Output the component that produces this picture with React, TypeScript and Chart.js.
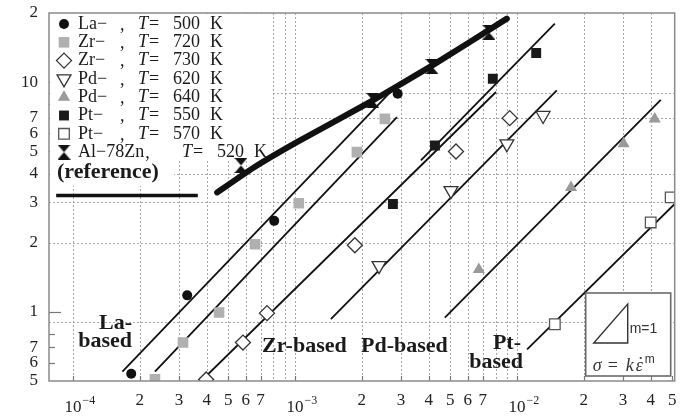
import React, { useEffect, useRef } from 'react';
import { Chart, registerables } from 'chart.js';

Chart.register(...registerables);

const SERIF = '"Liberation Serif", "Times New Roman", serif';
const SANS = '"Liberation Sans", Arial, sans-serif';

// ---------------- data: strain rate (s^-1) vs flow stress ----------------
const laX = [1.83e-4, 3.27e-4, 8.06e-4, 2.9e-3];
const laY = [0.538, 1.18, 2.49, 8.91];
const zr720X = [2.34e-4, 3.13e-4, 4.55e-4, 6.61e-4, 1.04e-3, 1.9e-3, 2.54e-3];
const zr720Y = [0.508, 0.735, 0.993, 1.97, 2.97, 4.96, 6.92];
const zr730X = [3.98e-4, 5.83e-4, 7.48e-4, 1.86e-3, 5.31e-3, 9.27e-3];
const zr730Y = [0.508, 0.735, 0.987, 1.95, 4.99, 6.97];
const pd620X = [2.39e-3, 5.04e-3, 9.0e-3, 1.31e-2];
const pd620Y = [1.59, 3.37, 5.39, 7.16];
const pd640X = [6.73e-3, 1.75e-2, 3.02e-2, 4.17e-2];
const pd640Y = [1.53, 3.48, 5.39, 6.92];
const pt550X = [2.76e-3, 4.27e-3, 7.78e-3, 1.22e-2];
const pt550Y = [2.95, 5.3, 10.35, 13.4];
const pt570X = [1.48e-2, 4.0e-2, 4.92e-2];
const pt570Y = [0.883, 2.45, 3.15];
const alznX = [5.71e-4, 2.24e-3, 4.14e-3, 7.47e-3];
const alznY = [4.34, 8.32, 11.7, 16.5];

// fitted lines (m = 1)
const laLineX = [1.67e-4, 2.97e-3];
const laLineY = [0.549, 10.0];
const zr720LineX = [2.34e-4, 2.88e-3];
const zr720LineY = [0.549, 7.05];
const zr730LineX = [3.78e-4, 8.04e-3];
const zr730LineY = [0.5, 9.06];
const pt550LineX = [3.69e-3, 1.48e-2];
const pt550LineY = [4.56, 17.98];
const pd620LineX = [1.45e-3, 1.51e-2];
const pd620LineY = [0.929, 9.2];
const pd640LineX = [4.73e-3, 4.44e-2];
const pd640LineY = [0.944, 8.38];
const pt570LineX = [1.11e-2, 5.13e-2];
const pt570LineY = [0.687, 2.95];
// Al-78Zn reference curve and reference level
const alznCurveX = [4.46e-4, 6.47e-4, 1.02e-3, 2.24e-3, 4.14e-3, 9.0e-3];
const alznCurveY = [3.31, 4.23, 5.48, 8.32, 11.8, 18.9];
const refLevelX = [8.4e-5, 3.65e-4];
const refLevelY = [3.21, 3.21];

// axes
const xMin = 7.8e-5;
const xMax = 5.13e-2;
const yMin = 0.5;
const yMax = 20;
const xTickVals = [1e-4, 2e-4, 3e-4, 4e-4, 5e-4, 6e-4, 7e-4, 1e-3, 2e-3, 3e-3, 4e-3, 5e-3, 6e-3, 7e-3, 1e-2, 2e-2, 3e-2, 4e-2, 5e-2];
const xTickLabels = ['10|−4', '2', '3', '4', '5', '6', '7', '10|−3', '2', '3', '4', '5', '6', '7', '10|−2', '2', '3', '4', '5'];
const yTickVals = [0.5, 0.6, 0.7, 1, 2, 3, 4, 5, 6, 7, 10, 20];
const yTickLabels = ['5', '6', '7', '1', '2', '3', '4', '5', '6', '7', '10', '2'];
const gridXVals = [1e-4, 2e-4, 3e-4, 4e-4, 5e-4, 6e-4, 7e-4, 8e-4, 9e-4, 1e-3, 2e-3, 3e-3, 4e-3, 5e-3, 6e-3, 7e-3, 8e-3, 9e-3, 1e-2, 2e-2, 3e-2, 4e-2];
const gridYVals = [0.9, 2, 3, 4, 7, 9];
const yInnerTickVals = [0.6, 0.7, 0.8, 1, 4, 5, 6, 7, 8, 9, 10];

const legendNames = ['La−', 'Zr−', 'Zr−', 'Pd−', 'Pd−', 'Pt−', 'Pt−', 'Al−78Zn'];
const legendTemps = ['500', '720', '730', '620', '640', '550', '570', '520'];

type Marker = { shape: string; r: number; fill: string; stroke: string; lw: number; rot?: number };
const markers: Marker[] = [
  { shape: 'circle', r: 5, fill: '#111', stroke: '#111', lw: 0 },
  { shape: 'rect', r: 7.5, fill: '#b0b0b0', stroke: '#b0b0b0', lw: 0 },
  { shape: 'rectRot', r: 7.5, fill: '#fff', stroke: '#333', lw: 1.3 },
  { shape: 'triangle', r: 8, fill: '#fff', stroke: '#333', lw: 1.3, rot: 180 },
  { shape: 'triangle', r: 7, fill: '#9a9a9a', stroke: '#9a9a9a', lw: 0 },
  { shape: 'rect', r: 7, fill: '#1a1a1a', stroke: '#1a1a1a', lw: 0 },
  { shape: 'rect', r: 7.5, fill: '#fff', stroke: '#555', lw: 1.3 },
  { shape: 'hourglass', r: 7, fill: '#111', stroke: '#111', lw: 0 },
];

function makeHourglass(): HTMLCanvasElement {
  const c = document.createElement('canvas');
  c.width = 13;
  c.height = 15;
  const g = c.getContext('2d')!;
  g.fillStyle = '#111';
  g.beginPath();
  g.moveTo(0, 0);
  g.lineTo(13, 0);
  g.lineTo(6.5, 7.5);
  g.closePath();
  g.fill();
  g.beginPath();
  g.moveTo(0, 15);
  g.lineTo(13, 15);
  g.lineTo(6.5, 7.5);
  g.closePath();
  g.fill();
  return c;
}

function drawMarker(ctx: CanvasRenderingContext2D, m: Marker, x: number, y: number, img: HTMLCanvasElement) {
  ctx.save();
  if (m.shape === 'hourglass') {
    ctx.drawImage(img, x - img.width / 2, y - img.height / 2);
    ctx.restore();
    return;
  }
  ctx.fillStyle = m.fill;
  ctx.strokeStyle = m.stroke;
  ctx.lineWidth = m.lw;
  ctx.beginPath();
  if (m.shape === 'circle') {
    ctx.arc(x, y, m.r, 0, Math.PI * 2);
  } else if (m.shape === 'rect') {
    const s = m.r * Math.SQRT1_2;
    ctx.rect(x - s, y - s, 2 * s, 2 * s);
  } else if (m.shape === 'rectRot') {
    ctx.moveTo(x, y - m.r);
    ctx.lineTo(x + m.r, y);
    ctx.lineTo(x, y + m.r);
    ctx.lineTo(x - m.r, y);
    ctx.closePath();
  } else if (m.shape === 'triangle') {
    let rad = ((m.rot || 0) * Math.PI) / 180;
    for (let k = 0; k < 3; k++) {
      const px = x + Math.sin(rad) * m.r;
      const py = y - Math.cos(rad) * m.r;
      if (k === 0) ctx.moveTo(px, py);
      else ctx.lineTo(px, py);
      rad += (2 * Math.PI) / 3;
    }
    ctx.closePath();
  }
  ctx.fill();
  if (m.lw > 0) ctx.stroke();
  ctx.restore();
}

const pts = (xs: number[], ys: number[]) => xs.map((x, i) => ({ x, y: ys[i] }));

export default function App() {
  const ref = useRef<HTMLCanvasElement>(null);

  useEffect(() => {
    const canvas = ref.current!;
    const hg = makeHourglass();

    const markerSet = (label: string, xs: number[], ys: number[], m: Marker) => ({
      label,
      data: pts(xs, ys),
      showLine: false,
      pointStyle: m.shape === 'hourglass' ? hg : m.shape,
      rotation: m.rot || 0,
      pointRadius: m.r,
      pointBackgroundColor: m.fill,
      pointBorderColor: m.stroke,
      pointBorderWidth: m.lw,
      pointHoverRadius: m.r,
    });
    const lineSet = (label: string, xs: number[], ys: number[], w: number, extra: any = {}) => ({
      label,
      data: pts(xs, ys),
      showLine: true,
      borderColor: '#111',
      borderWidth: w,
      pointRadius: 0,
      pointHoverRadius: 0,
      fill: false,
      ...extra,
    });

    const overlay = {
      id: 'overlay',
      beforeDatasetsDraw(chart: any) {
        const { ctx, chartArea: a, scales } = chart;
        const sx = scales.x;
        const sy = scales.y;
        ctx.save();
        ctx.strokeStyle = '#a8a8a8';
        ctx.lineWidth = 1;
        ctx.setLineDash([2, 2]);
        for (const v of gridXVals) {
          const px = Math.round(sx.getPixelForValue(v)) + 0.5;
          ctx.beginPath();
          ctx.moveTo(px, a.top);
          ctx.lineTo(px, a.bottom);
          ctx.stroke();
        }
        for (const v of gridYVals) {
          const py = Math.round(sy.getPixelForValue(v)) + 0.5;
          ctx.beginPath();
          ctx.moveTo(a.left, py);
          ctx.lineTo(a.right, py);
          ctx.stroke();
        }
        ctx.setLineDash([]);
        // inner ticks
        ctx.strokeStyle = '#777';
        ctx.lineWidth = 1.2;
        for (const v of yInnerTickVals) {
          const py = Math.round(sy.getPixelForValue(v)) + 0.5;
          const len = v === 1 || v === 10 ? 12 : 6;
          ctx.beginPath();
          ctx.moveTo(a.left, py);
          ctx.lineTo(a.left + len, py);
          ctx.stroke();
        }
        for (const v of xTickVals) {
          const px = Math.round(sx.getPixelForValue(v)) + 0.5;
          ctx.beginPath();
          ctx.moveTo(px, a.bottom);
          ctx.lineTo(px, a.bottom - 5);
          ctx.stroke();
        }
        // legend background
        ctx.fillStyle = '#fff';
        ctx.fillRect(a.left + 1, a.top + 1, 222, 146);
        ctx.fillRect(a.left + 1, a.top + 147, 124, 26);
        ctx.restore();
      },
      afterDatasetsDraw(chart: any) {
        const { ctx, chartArea: a, scales } = chart;
        const sx = scales.x;
        ctx.save();
        // frame
        ctx.strokeStyle = '#8a8a8a';
        ctx.lineWidth = 1.5;
        ctx.strokeRect(a.left, a.top, a.right - a.left, a.bottom - a.top);

        // legend
        ctx.fillStyle = '#1a1a1a';
        ctx.textBaseline = 'middle';
        ctx.textAlign = 'left';
        for (let i = 0; i < legendNames.length; i++) {
          const y = a.top + 11 + i * 18.3;
          drawMarker(ctx, markers[i], a.left + 15, y, hg);
          const off = i === 7 ? 44 : 0;
          ctx.font = `18px ${SERIF}`;
          ctx.fillText(legendNames[i], a.left + 29, y);
          const commaX = i === 7 ? a.left + 29 + ctx.measureText(legendNames[i]).width + 1 : a.left + 71;
          ctx.fillText(',', commaX, y + 1);
          ctx.font = `italic 18px ${SERIF}`;
          ctx.fillText('T', a.left + 89 + off, y);
          ctx.font = `18px ${SERIF}`;
          ctx.fillText('=', a.left + 100 + off, y);
          ctx.fillText(legendTemps[i], a.left + 124 + off, y);
          ctx.fillText('K', a.left + 161 + off, y);
        }
        ctx.font = `bold 22px ${SERIF}`;
        ctx.fillText('(reference)', a.left + 8, a.top + 159);

        // group annotations
        ctx.font = `bold 22px ${SERIF}`;
        ctx.textAlign = 'right';
        ctx.fillText('La-', a.left + 83, a.bottom - 58);
        ctx.fillText('based', a.left + 83, a.bottom - 40);
        ctx.textAlign = 'left';
        ctx.fillText('Zr-based', a.left + 213, a.bottom - 35);
        ctx.fillText('Pd-based', a.left + 312, a.bottom - 35);
        ctx.textAlign = 'right';
        ctx.fillText('Pt-', a.left + 472, a.bottom - 38);
        ctx.fillText('based', a.left + 474, a.bottom - 19);

        // slope box
        const bx = a.right - 89;
        const by = a.bottom - 88;
        ctx.strokeStyle = '#6a6a6a';
        ctx.lineWidth = 1.6;
        ctx.fillStyle = '#fff';
        ctx.fillRect(bx, by, 85, 83);
        ctx.strokeRect(bx, by, 85, 83);
        ctx.strokeStyle = '#333';
        ctx.lineWidth = 1.4;
        ctx.beginPath();
        ctx.moveTo(bx + 8, by + 50);
        ctx.lineTo(bx + 42, by + 50);
        ctx.lineTo(bx + 42, by + 11);
        ctx.closePath();
        ctx.stroke();
        ctx.fillStyle = '#333';
        ctx.textAlign = 'left';
        ctx.font = `14px ${SANS}`;
        ctx.fillText('m=1', bx + 44, by + 36);
        ctx.font = `italic 18px ${SERIF}`;
        ctx.fillText('σ', bx + 7, by + 73);
        ctx.font = `18px ${SERIF}`;
        ctx.fillText('=', bx + 22, by + 73);
        ctx.font = `italic 18px ${SERIF}`;
        ctx.fillText('k', bx + 40, by + 73);
        ctx.fillText('ε', bx + 50, by + 73);
        ctx.beginPath();
        ctx.arc(bx + 55, by + 65, 1.1, 0, Math.PI * 2);
        ctx.fill();
        ctx.font = `12px ${SANS}`;
        ctx.fillText('m', bx + 59, by + 67);

        // decade tick labels 10^n
        ctx.fillStyle = '#222';
        ctx.textBaseline = 'alphabetic';
        xTickVals.forEach((v, i) => {
          const lab = xTickLabels[i];
          if (lab.indexOf('|') < 0) return;
          const [base, ex] = lab.split('|');
          const px = sx.getPixelForValue(v);
          ctx.font = `17px ${SERIF}`;
          const w = ctx.measureText(base).width;
          ctx.textAlign = 'left';
          ctx.fillText(base, px - w / 2, a.bottom + 31);
          ctx.font = `12px ${SERIF}`;
          ctx.fillText(ex, px + w / 2 + 1, a.bottom + 23);
        });
        ctx.restore();
      },
    };

    const chart = new Chart(canvas, {
      type: 'scatter',
      data: {
        datasets: [
          markerSet('La', laX, laY, markers[0]),
          markerSet('Zr720', zr720X, zr720Y, markers[1]),
          markerSet('Zr730', zr730X, zr730Y, markers[2]),
          markerSet('Pd620', pd620X, pd620Y, markers[3]),
          markerSet('Pd640', pd640X, pd640Y, markers[4]),
          markerSet('Pt550', pt550X, pt550Y, markers[5]),
          markerSet('Pt570', pt570X, pt570Y, markers[6]),
          markerSet('AlZn', alznX, alznY, markers[7]),
          lineSet('La fit', laLineX, laLineY, 1.8),
          lineSet('Zr720 fit', zr720LineX, zr720LineY, 1.8),
          lineSet('Zr730 fit', zr730LineX, zr730LineY, 1.8),
          lineSet('Pt550 fit', pt550LineX, pt550LineY, 1.8),
          lineSet('Pd620 fit', pd620LineX, pd620LineY, 1.8),
          lineSet('Pd640 fit', pd640LineX, pd640LineY, 1.8),
          lineSet('Pt570 fit', pt570LineX, pt570LineY, 1.8),
          lineSet('AlZn curve', alznCurveX, alznCurveY, 6, { tension: 0.15, borderCapStyle: 'round', borderJoinStyle: 'round' }),
          lineSet('reference', refLevelX, refLevelY, 3.5),
        ] as any,
      },
      options: {
        responsive: false,
        animation: false,
        layout: { padding: { top: 13, right: 4, left: 0, bottom: 0 } },
        plugins: { legend: { display: false }, tooltip: { enabled: false } },
        scales: {
          x: {
            type: 'logarithmic',
            min: xMin,
            max: xMax,
            bounds: 'data',
            grid: { display: false, drawTicks: false },
            border: { display: false },
            afterBuildTicks: (s: any) => {
              s.ticks = xTickVals.map((v) => ({ value: v }));
            },
            afterFit: (s: any) => {
              s.height = 39;
              s.paddingLeft = 0;
              s.paddingRight = 0;
            },
            ticks: {
              autoSkip: false,
              maxRotation: 0,
              minRotation: 0,
              padding: 9,
              color: '#222',
              font: { family: SERIF, size: 17 },
              callback: (_v: any, i: number) => (xTickLabels[i].indexOf('|') >= 0 ? '' : xTickLabels[i]),
            },
          },
          y: {
            type: 'logarithmic',
            min: yMin,
            max: yMax,
            bounds: 'data',
            grid: { display: false, drawTicks: false },
            border: { display: false },
            afterBuildTicks: (s: any) => {
              s.ticks = yTickVals.map((v) => ({ value: v }));
            },
            afterFit: (s: any) => {
              s.width = 49;
              s.paddingTop = 0;
              s.paddingBottom = 0;
            },
            ticks: {
              autoSkip: false,
              padding: 11,
              color: '#222',
              font: { family: SERIF, size: 17 },
              callback: (_v: any, i: number) => yTickLabels[i],
            },
          },
        },
      } as any,
      plugins: [overlay],
    });
    return () => chart.destroy();
  }, []);

  return (
    <canvas
      ref={ref}
      width={684}
      height={420}
      style={{ position: 'fixed', left: 0, top: 0, width: 684, height: 420, display: 'block', background: '#fff' }}
    />
  );
}
